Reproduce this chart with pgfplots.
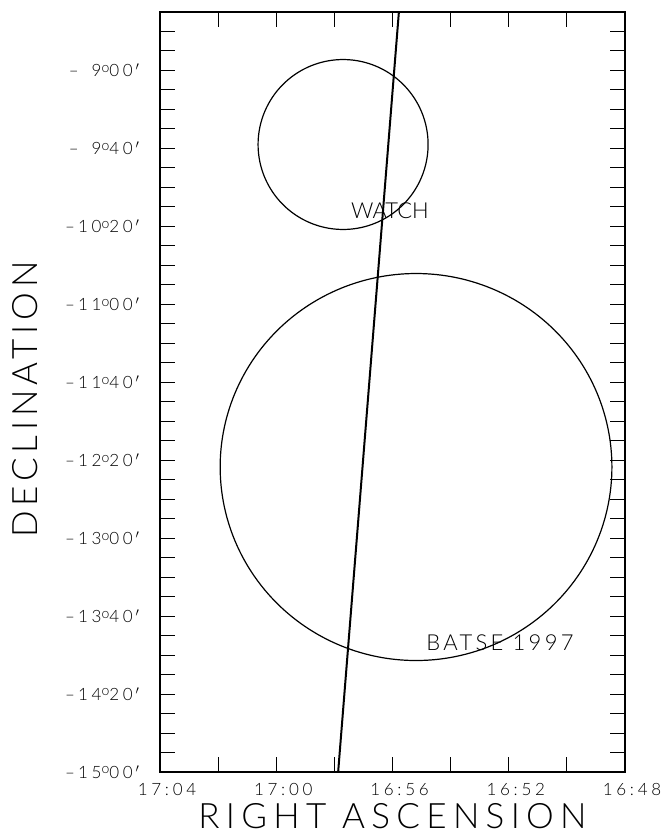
\documentclass[border=0pt]{standalone}
\usepackage{fontspec}
\setmainfont{Lato Light}
\usepackage{pgfplots}
\pgfplotsset{compat=1.18}
\newcommand{\dm}[2]{–\kern3pt#1\raisebox{4.5pt}{\fontsize{14}{14}\selectfont o}#2\,${}'$}
\begin{document}
\begin{tikzpicture}
\begin{axis}[
  scale only axis, width=465pt, height=760pt,
  x dir=reverse, xmin=48, xmax=64, ymin=-900, ymax=-510,
  xtick={48,50,...,64},
  xticklabels={16:48,,16:52,,16:56,,17:00,,17:04},
  ytick={-900,-860,...,-540},
  yticklabels={\dm{15}{00},\dm{14}{20},\dm{13}{40},\dm{13}{00},\dm{12}{20},\dm{11}{40},\dm{11}{00},\dm{10}{20},\dm{\phantom{1}9}{40},\dm{\phantom{1}9}{00}},
  minor ytick={-890,-880,...,-520},
  tick align=inside, major tick length=15pt, minor tick length=15pt,
  axis line style={line width=1.4pt},
  every tick/.style={black, line width=1pt},
  tick label style={font=\fontsize{17}{17}\selectfont\addfontfeature{LetterSpace=22}},
  yticklabel style={xshift=-17pt},
  xticklabel style={yshift=-8pt, xshift=7pt},
  xlabel={RIGHT ASCENSION}, ylabel={DECLINATION},
  label style={inner sep=0pt},
  xlabel style={font=\fontsize{35}{35}\selectfont\addfontfeature{LetterSpace=18}, at={(axis description cs:0.5,-0.0737)}, anchor=base},
  ylabel style={font=\fontsize{35}{35}\selectfont\addfontfeature{LetterSpace=14}, at={(axis description cs:-0.264,0.49)}, anchor=base},
  clip=true,
]
\addplot[black, line width=1.2pt, domain=0:360, samples=181] ({57.70+2.925*cos(x)},{-578.0+43.6*sin(x)});
\addplot[black, line width=1.2pt, domain=0:360, samples=241] ({55.19+6.74*cos(x)},{-743.5+99.3*sin(x)});
\addplot[black, line width=2pt] coordinates {(55.78,-510) (57.87,-900)};
\node[font=\fontsize{22}{22}\selectfont] at (axis cs:56.09,-612.1) {WATCH};
\node[font=\fontsize{22}{22}\selectfont\addfontfeature{LetterSpace=15}] at (axis cs:52.30,-833.8) {BATSE 1997};
\end{axis}
\pgfresetboundingbox
\path ([shift={(-160pt,-63pt)}]current axis.south west) rectangle ([shift={(39pt,12pt)}]current axis.north east);
\end{tikzpicture}
\end{document}
